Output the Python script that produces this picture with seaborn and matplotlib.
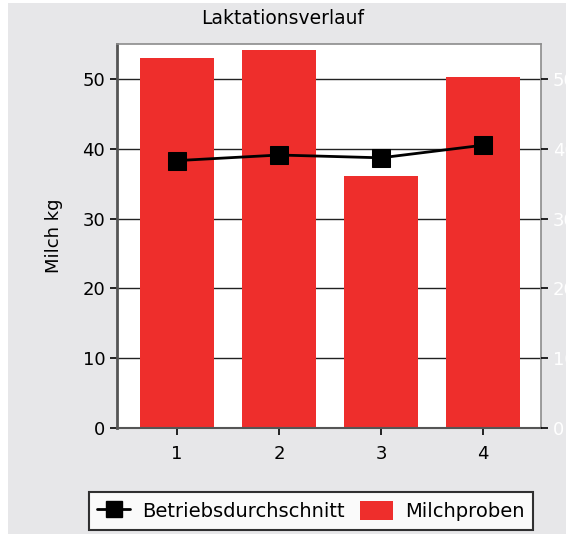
import matplotlib
matplotlib.use("Agg")
import matplotlib.pyplot as plt
import seaborn as sns
import pandas as pd
from matplotlib.patches import Rectangle
from matplotlib.lines import Line2D

categories = ["1", "2", "3", "4"]
milchproben = [53.0, 54.2, 36.1, 50.3]
betriebsdurchschnitt = [38.3, 39.1, 38.7, 40.5]
yticks = [0, 10, 20, 30, 40, 50]

sns.set_theme(style="white")
plt.rcParams['font.family'] = ['DejaVu Sans']
plt.rcParams['text.color'] = 'black'

W, H = 566, 534
fig = plt.figure(figsize=(W / 100, H / 100), dpi=100, facecolor="white")
fig.patches.append(Rectangle((8 / W, 0), 1, 1 - 3 / H, transform=fig.transFigure,
                             facecolor="#e7e7e9", edgecolor="none", zorder=-10))

ax = fig.add_axes([117 / W, 1 - 428 / H, (541 - 117) / W, (428 - 44) / H])
ax.set_facecolor("white")

df = pd.DataFrame({"Lakt": categories, "Milch": milchproben, "Betrieb": betriebsdurchschnitt})
sns.barplot(data=df, x="Lakt", y="Milch", color="#ee2e2c", saturation=1, width=0.73,
            ax=ax, zorder=2, linewidth=0)
sns.lineplot(x=range(len(categories)), y=betriebsdurchschnitt, ax=ax, color="black",
             lw=2, marker="s", markersize=13, markeredgecolor="black",
             markerfacecolor="black", zorder=4)

ax.set_xlim(-0.59, 3.57)
ax.set_ylim(0, 55)
ax.set_yticks(yticks)
for t in yticks:
    ax.axhline(t, color="#222222", lw=1, zorder=1)
ax.set_xlabel("")
ax.set_ylabel("Milch kg", fontsize=13, color="black", labelpad=14)
ax.tick_params(axis="both", which="both", direction="out", length=5, width=1.2,
               color="black", labelsize=13, labelcolor="black", left=True, bottom=True)
ax.tick_params(axis="x", pad=7)

for s in ["top", "right"]:
    ax.spines[s].set_color("#8c8c8c")
    ax.spines[s].set_linewidth(1.2)
ax.spines["left"].set_color("#555555")
ax.spines["left"].set_linewidth(2)
ax.spines["bottom"].set_color("#555555")
ax.spines["bottom"].set_linewidth(1.5)

ax2 = ax.twinx()
ax2.set_ylim(0, 55)
ax2.set_yticks(yticks)
ax2.tick_params(axis="y", direction="out", length=5, width=1.2, color="black",
                labelsize=13, labelcolor="white", right=True)
for s in ax2.spines.values():
    s.set_visible(False)

fig.text(0.5, 1 - 18 / H, "Laktationsverlauf", ha="center", va="center", fontsize=13.5, color="black")

handles = [Line2D([], [], color="black", lw=2, marker="s", markersize=12),
           Rectangle((0, 0), 1, 1, facecolor="#ee2e2c", edgecolor="none")]
leg = fig.legend(handles, ["Betriebsdurchschnitt", "Milchproben"], loc="center",
                 bbox_to_anchor=(311 / W, 1 - 511 / H), ncol=2, frameon=True,
                 fontsize=14, fancybox=False, edgecolor="black", facecolor="white",
                 handlelength=1.7, handleheight=1.1, handletextpad=0.6, columnspacing=0.8,
                 borderpad=0.45, borderaxespad=0, labelcolor="black")
leg.get_frame().set_linewidth(1.5)

fig.savefig("out.png", dpi=100, facecolor=fig.get_facecolor())
